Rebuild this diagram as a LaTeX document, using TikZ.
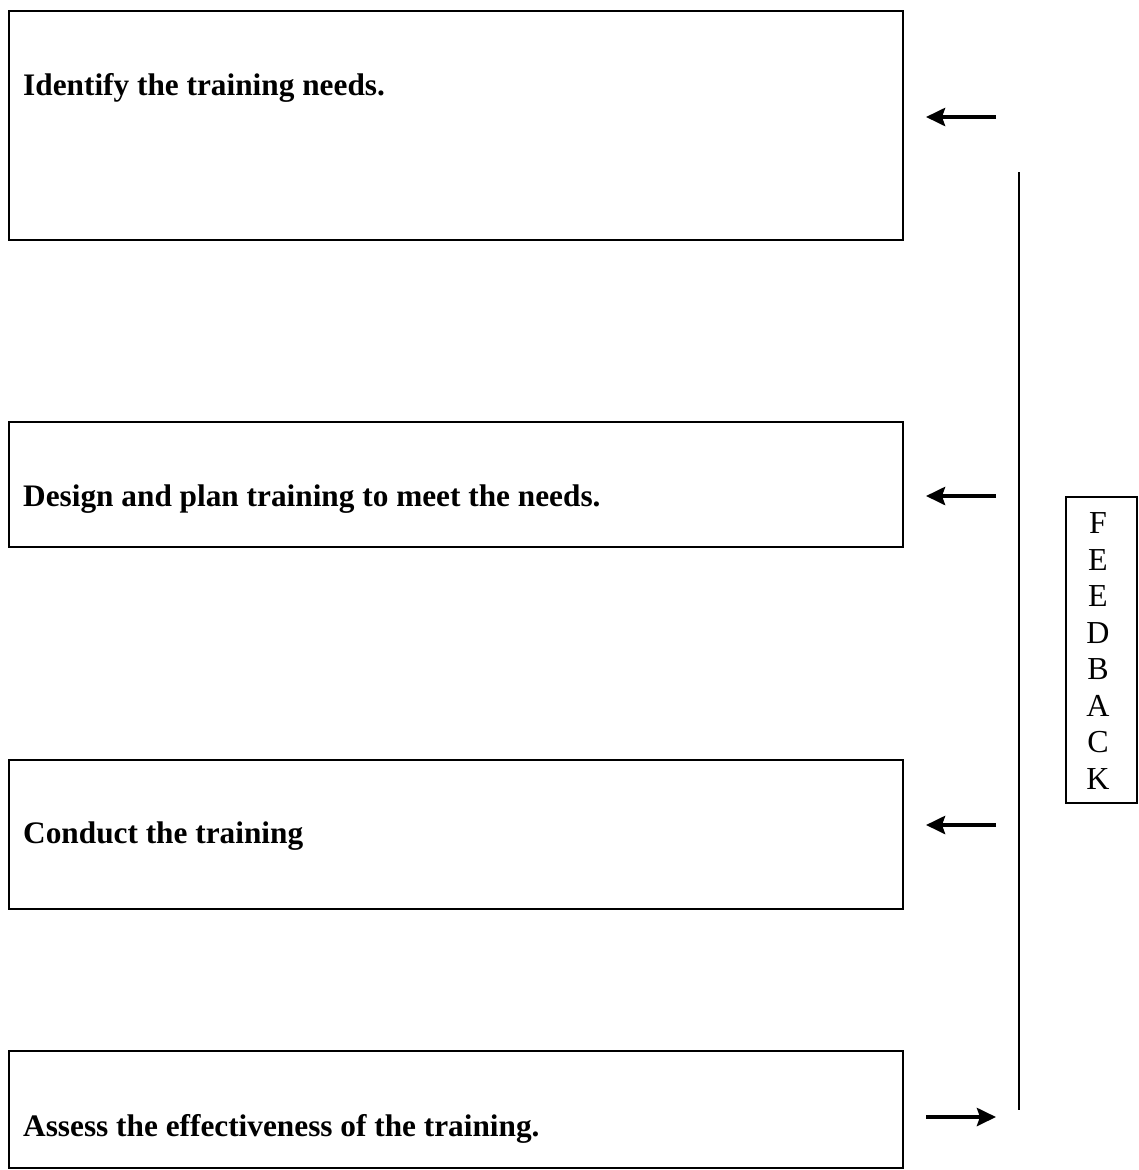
\documentclass[tikz,border=0pt]{standalone}
\usepackage{fontspec}
\setmainfont{Liberation Serif}
\usetikzlibrary{arrows.meta}
\begin{document}
\begin{tikzpicture}[x=1pt,y=-1pt,
  stepbox/.style={draw,line width=1.3pt},
  steplabel/.style={anchor=base west,inner sep=0pt,font=\fontsize{31.3}{36}\selectfont\bfseries},
  fb/.style={line width=4pt,-{Stealth[length=19pt,width=18pt,inset=3pt]}}]
\useasboundingbox (0,0) rectangle (1139,1170);
% boxes
\draw[stepbox] (9,11) rectangle (903,240);
\draw[stepbox] (9,422) rectangle (903,547);
\draw[stepbox] (9,760) rectangle (903,909);
\draw[stepbox] (9,1051) rectangle (903,1168);
\node[steplabel] (t1) at (23,95) {Identify the training needs.};
\node[steplabel] (t2) at (23,506) {Design and plan training to meet the needs.};
\node[steplabel] (t3) at (23,843) {Conduct the training};
\node[steplabel] (t4) at (23,1136) {Assess the effectiveness of the training.};
% arrows
\coordinate (a1s) at (996,117); \coordinate (a1e) at (926,117);
\coordinate (a2s) at (996,496); \coordinate (a2e) at (926,496);
\coordinate (a3s) at (996,825); \coordinate (a3e) at (926,825);
\coordinate (a4s) at (926,1117); \coordinate (a4e) at (996,1117);
\draw[fb] (a1s) -- (a1e);
\draw[fb] (a2s) -- (a2e);
\draw[fb] (a3s) -- (a3e);
\draw[fb] (a4s) -- (a4e);
% vertical line
\coordinate (vt) at (1019,172); \coordinate (vb) at (1019,1110);
\draw[line width=2pt] (vt) -- (vb);
% feedback box
\draw[stepbox] (1066,497) rectangle (1137,803);
\node[align=center,inner sep=0pt,font=\fontsize{32}{36.5}\selectfont] (fbk) at (1098,651) {F\\E\\E\\D\\B\\A\\C\\K};
\end{tikzpicture}
\end{document}
